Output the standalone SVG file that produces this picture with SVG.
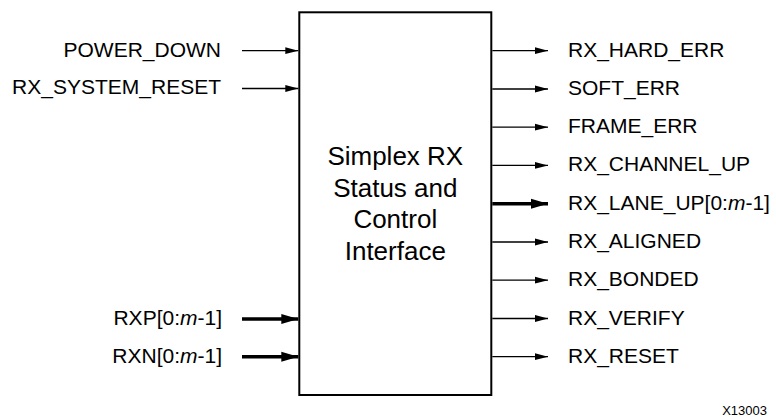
<svg xmlns="http://www.w3.org/2000/svg" width="776" height="418" viewBox="0 0 776 418">
<style>
text{font-family:"Liberation Sans",Arial,Helvetica,sans-serif;fill:#000}
.lbl{font-size:21px}
.ttl{font-size:26px;text-anchor:middle}
.r{text-anchor:end}
.thin{stroke:#000;stroke-width:1.3;fill:none;marker-end:url(#ah)}
.bus{stroke:#000;stroke-width:3.6;fill:none;marker-end:url(#ahb)}
.it{font-style:italic}
</style>
<defs>
<marker id="ah" markerUnits="userSpaceOnUse" markerWidth="14" markerHeight="8" refX="13" refY="4" orient="auto"><path d="M0,0.6 L13,4 L0,7.4 Z" fill="#000"/></marker>
<marker id="ahb" markerUnits="userSpaceOnUse" markerWidth="18" markerHeight="12" refX="17" refY="6" orient="auto"><path d="M0,1 L17,6 L0,11 Z" fill="#000"/></marker>
</defs>
<g id="block">
<rect x="299.3" y="12.3" width="192" height="382.7" fill="#fff" stroke="#000" stroke-width="2"/>
<text class="ttl" x="395.3" y="165">Simplex RX</text>
<text class="ttl" x="395.3" y="196.7">Status and</text>
<text class="ttl" x="395.3" y="228.4">Control</text>
<text class="ttl" x="395.3" y="260">Interface</text>
</g>
<g id="connectors">
<line class="thin" x1="242" y1="50.7" x2="298.3" y2="50.7"/>
<line class="thin" x1="242" y1="88.5" x2="298.3" y2="88.5"/>
<line class="bus" x1="242" y1="319" x2="298.3" y2="319"/>
<line class="bus" x1="242" y1="356.7" x2="298.3" y2="356.7"/>
<line class="thin" x1="492.3" y1="50.7" x2="548" y2="50.7"/>
<line class="thin" x1="492.3" y1="89" x2="548" y2="89"/>
<line class="thin" x1="492.3" y1="127.2" x2="548" y2="127.2"/>
<line class="thin" x1="492.3" y1="165.4" x2="548" y2="165.4"/>
<line class="bus" x1="492.3" y1="203.7" x2="548" y2="203.7"/>
<line class="thin" x1="492.3" y1="242" x2="548" y2="242"/>
<line class="thin" x1="492.3" y1="280.2" x2="548" y2="280.2"/>
<line class="thin" x1="492.3" y1="318.5" x2="548" y2="318.5"/>
<line class="thin" x1="492.3" y1="356.7" x2="548" y2="356.7"/>
</g>
<g id="inputs">
<text class="lbl r" x="221" y="56.7">POWER_DOWN</text>
<text class="lbl r" x="221" y="94">RX_SYSTEM_RESET</text>
<text class="lbl r" x="222" y="325">RXP[0:<tspan class="it">m</tspan>-1]</text>
<text class="lbl r" x="222" y="362.5">RXN[0:<tspan class="it">m</tspan>-1]</text>
</g>
<g id="outputs">
<text class="lbl" x="568" y="56.7">RX_HARD_ERR</text>
<text class="lbl" x="568" y="95">SOFT_ERR</text>
<text class="lbl" x="568" y="133.2">FRAME_ERR</text>
<text class="lbl" x="568" y="171.4">RX_CHANNEL_UP</text>
<text class="lbl" x="568" y="209.7">RX_LANE_UP[0:<tspan class="it">m</tspan>-1]</text>
<text class="lbl" x="568" y="248">RX_ALIGNED</text>
<text class="lbl" x="568" y="286.2">RX_BONDED</text>
<text class="lbl" x="568" y="324.5">RX_VERIFY</text>
<text class="lbl" x="568" y="362.7">RX_RESET</text>
</g>
<g id="figid">
<text x="767" y="415" style="font-size:13px;text-anchor:end">X13003</text>
</g>
</svg>
